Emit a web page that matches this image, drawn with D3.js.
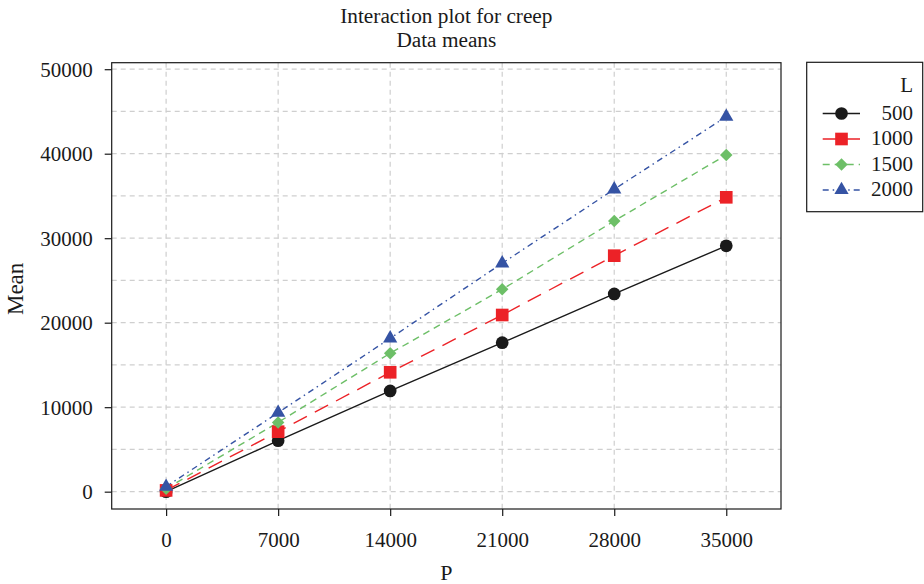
<!DOCTYPE html>
<html><head><meta charset="utf-8">
<script src="https://cdn.jsdelivr.net/npm/d3@7"></script>
<style>body{margin:0;background:#fff}svg{display:block}text{font-family:"Liberation Serif","DejaVu Serif",serif;fill:#1a1a1a}</style>
</head><body>
<script>
const pValues = [0, 7000, 14000, 21000, 28000, 35000];
const levels = ["500", "1000", "1500", "2000"];
const mean500  = [0, 6030, 11920, 17630, 23400, 29100];
const mean1000 = [150, 7100, 14130, 20910, 27930, 34840];
const mean1500 = [350, 8200, 16380, 23950, 32040, 39850];
const mean2000 = [600, 9350, 18150, 27030, 35790, 44380];
const yTicks = [0, 10000, 20000, 30000, 40000, 50000];
const yGrid = [0, 5000, 10000, 15000, 20000, 25000, 30000, 35000, 40000, 45000, 50000];

const seriesValues = [mean500, mean1000, mean1500, mean2000];
const colors = ["#1a1a1a", "#ec2227", "#6dbf67", "#3553a4"];
const dashes = [null, "15,9", "7,5", "6,4,1.5,4"];
const shapes = [d3.symbolCircle, d3.symbolSquare, d3.symbolSquare, d3.symbolTriangle];
const sizes = [127, 160, 78, 88];
const rots = [0, 0, 45, 0];

const W = 924, H = 584;
const L = 111.7, R = 781, T = 62.7, B = 509;
const svg = d3.select("body").append("svg").attr("width", W).attr("height", H);

const x = d3.scaleLinear().domain([-3400, 38420]).range([L, R]);
const y = d3.scaleLinear().domain([-2050, 50770]).range([B, T]);

// grid
const g = svg.append("g");
g.selectAll("line.hg").data(yGrid).join("line")
  .attr("x1", L).attr("x2", R).attr("y1", d => y(d)).attr("y2", d => y(d))
  .attr("stroke", "#cfcfcf").attr("stroke-width", 1.2).attr("stroke-dasharray", "5,4");
g.selectAll("line.vg").data(pValues).join("line")
  .attr("y1", T).attr("y2", B).attr("x1", d => x(d)).attr("x2", d => x(d))
  .attr("stroke", "#cfcfcf").attr("stroke-width", 1.2).attr("stroke-dasharray", "5,4");

// axes
const xAxis = svg.append("g").attr("transform", `translate(0,${B})`)
  .call(d3.axisBottom(x).tickValues(pValues).tickSize(7).tickPadding(8).tickFormat(d3.format("d")));
const yAxis = svg.append("g").attr("transform", `translate(${L},0)`)
  .call(d3.axisLeft(y).tickValues(yTicks).tickSize(7).tickPadding(12).tickFormat(d3.format("d")));
[xAxis, yAxis].forEach(a => {
  a.select(".domain").remove();
  a.selectAll(".tick line").attr("stroke", "#1a1a1a").attr("stroke-width", 1.2);
  a.selectAll("text").attr("font-size", 21).attr("fill", "#1a1a1a")
    .attr("font-family", "Liberation Serif, serif");
});
xAxis.selectAll("text").attr("dy", null).attr("y", 38);
yAxis.selectAll("text").attr("dy", "0.33em");

// frame
svg.append("rect").attr("x", L).attr("y", T).attr("width", R - L).attr("height", B - T)
  .attr("fill", "none").attr("stroke", "#1a1a1a").attr("stroke-width", 1.2);

// series
const line = d3.line().x((d, i) => x(pValues[i])).y(d => y(d));
seriesValues.forEach((vals, k) => {
  svg.append("path").datum(vals).attr("d", line).attr("fill", "none")
    .attr("stroke", colors[k]).attr("stroke-width", 1.4)
    .attr("stroke-dasharray", dashes[k]);
});
seriesValues.forEach((vals, k) => {
  svg.append("g").selectAll("path").data(vals).join("path")
    .attr("transform", (d, i) => `translate(${x(pValues[i])},${y(d)}) rotate(${rots[k]})`)
    .attr("d", d3.symbol().type(shapes[k]).size(sizes[k]))
    .attr("fill", colors[k]);
});

// titles
svg.append("text").attr("x", (L + R) / 2).attr("y", 22.5).attr("text-anchor", "middle")
  .attr("font-size", 21.3).text("Interaction plot for creep");
svg.append("text").attr("x", (L + R) / 2).attr("y", 46.5).attr("text-anchor", "middle")
  .attr("font-size", 21.3).text("Data means");
svg.append("text").attr("x", (L + R) / 2).attr("y", 580).attr("text-anchor", "middle")
  .attr("font-size", 22).text("P");
svg.append("text").attr("transform", `translate(23,${(T + B) / 2 + 3}) rotate(-90)`)
  .attr("text-anchor", "middle").attr("font-size", 23).text("Mean");

// legend
const lg = svg.append("g");
lg.append("rect").attr("x", 806.7).attr("y", 62.3).attr("width", 116).attr("height", 149.4)
  .attr("fill", "#fff").attr("stroke", "#1a1a1a").attr("stroke-width", 1.2);
lg.append("text").attr("x", 913).attr("y", 92).attr("text-anchor", "end").attr("font-size", 21).text("L");
levels.forEach((lab, k) => {
  const yy = 113.5 + k * 25.5;
  lg.append("line").attr("x1", 822.7).attr("x2", 860).attr("y1", yy).attr("y2", yy)
    .attr("stroke", colors[k]).attr("stroke-width", 1.4).attr("stroke-dasharray", dashes[k]);
  lg.append("path").attr("transform", `translate(841.5,${yy}) rotate(${rots[k]})`)
    .attr("d", d3.symbol().type(shapes[k]).size(sizes[k])).attr("fill", colors[k]);
  lg.append("text").attr("x", 913).attr("y", yy + 6).attr("text-anchor", "end")
    .attr("font-size", 21).text(lab);
});
</script>
</body></html>
